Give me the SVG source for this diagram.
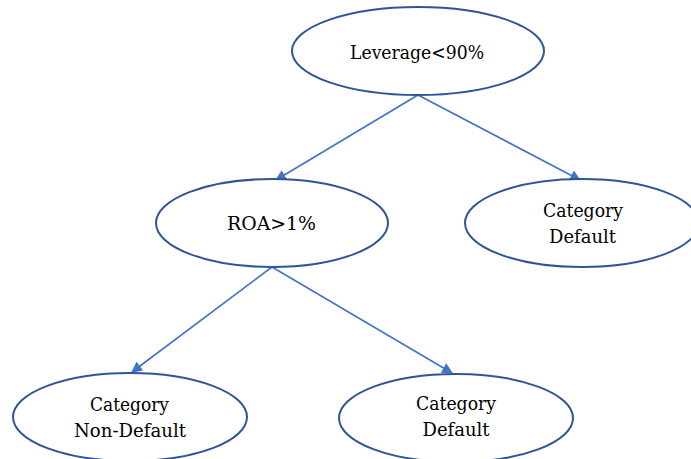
<svg xmlns="http://www.w3.org/2000/svg" width="691" height="459" viewBox="0 0 691 459">
<defs>
<marker id="arr" viewBox="0 0 10 10" refX="9" refY="5" markerWidth="11" markerHeight="11" markerUnits="userSpaceOnUse" orient="auto">
<path d="M0,0 L10,5 L0,10 z" fill="#4472C4"/>
</marker>
<style>
.n{fill:#fff;stroke:#2F5597;stroke-width:2}
.t{font-family:'DejaVu Serif',serif;font-size:18px;fill:#000;text-anchor:middle}
.c{stroke:#4472C4;stroke-width:1.6;fill:none;marker-end:url(#arr)}
</style>
</defs>
<rect width="691" height="459" fill="#fff"/>
<g id="connectors">
<line class="c" x1="418" y1="95" x2="276" y2="180"/>
<line class="c" x1="418" y1="95" x2="580" y2="180"/>
<line class="c" x1="272" y1="267" x2="132" y2="372"/>
<line class="c" x1="272" y1="267" x2="452" y2="373"/>
</g>
<g id="n1"><ellipse class="n" cx="418" cy="51" rx="126" ry="44"/><text class="t" x="417" y="59" textLength="134" lengthAdjust="spacingAndGlyphs">Leverage&lt;90%</text></g>
<g id="n2"><ellipse class="n" cx="272" cy="223" rx="116" ry="44"/><text class="t" x="271.5" y="230" textLength="89" lengthAdjust="spacingAndGlyphs">ROA&gt;1%</text></g>
<g id="n3"><ellipse class="n" cx="582" cy="223" rx="117" ry="44"/><text class="t" x="583" y="217" textLength="80" lengthAdjust="spacingAndGlyphs">Category</text><text class="t" x="582.5" y="243" textLength="67" lengthAdjust="spacingAndGlyphs">Default</text></g>
<g id="n4"><ellipse class="n" cx="130" cy="417" rx="117" ry="44"/><text class="t" x="129.5" y="411" textLength="79" lengthAdjust="spacingAndGlyphs">Category</text><text class="t" x="130" y="437" textLength="112" lengthAdjust="spacingAndGlyphs">Non-Default</text></g>
<g id="n5"><ellipse class="n" cx="456" cy="418" rx="117" ry="44"/><text class="t" x="456" y="410" textLength="80" lengthAdjust="spacingAndGlyphs">Category</text><text class="t" x="456" y="436" textLength="67" lengthAdjust="spacingAndGlyphs">Default</text></g>
</svg>
